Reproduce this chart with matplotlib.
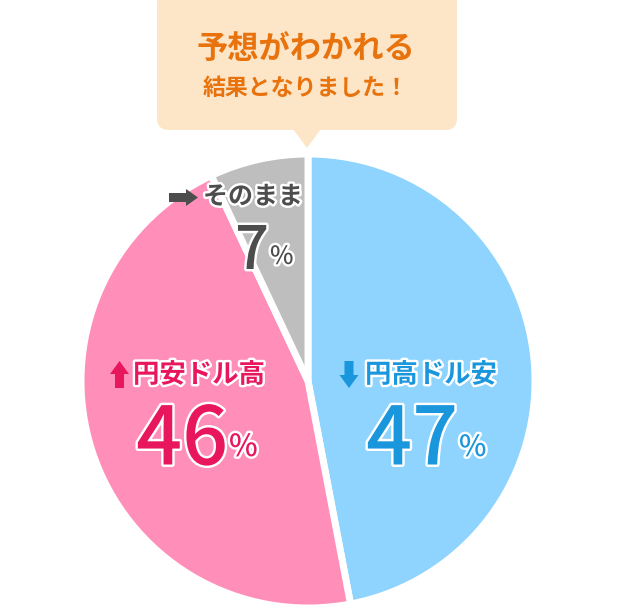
import matplotlib.pyplot as plt
import matplotlib.patches as mpatches
import matplotlib.patheffects as pe

plt.rcParams['font.family'] = ['Noto Sans CJK JP', 'DejaVu Sans']

# data
labels = ["円高ドル安", "円安ドル高", "そのまま"]
shares = [47, 46, 7]
slice_colors = ["#8ed4fe", "#ff8fb8", "#bebebe"]
text_colors = ["#1a96dc", "#e8175d", "#4d4d4d"]
title_lines = ["予想がわかれる", "結果となりました！"]

W, H = 618, 610
fig = plt.figure(figsize=(W / 100, H / 100), dpi=100)
ax = fig.add_axes([0, 0, 1, 1])

# pie, clockwise from 12 o'clock
cx, cy, r = 308, H - 381, 227
ax.pie(shares, colors=slice_colors, startangle=90, counterclock=False,
       center=(cx, cy), radius=r, frame=True,
       wedgeprops=dict(edgecolor="white", linewidth=5))
ax.set_xlim(0, W)
ax.set_ylim(0, H)
ax.set_aspect("equal")
ax.axis("off")

# speech bubble
bubble = mpatches.FancyBboxPatch((157, H - 130), 300, 140,
                                 boxstyle="round,pad=0,rounding_size=12",
                                 fc="#fde5c8", ec="none")
ax.add_patch(bubble)
ax.add_patch(mpatches.Polygon([(293, H - 129), (321, H - 129), (307, H - 148)],
                              closed=True, fc="#fde5c8", ec="none"))
ax.text(306, H - 49, title_lines[0], ha="center", va="center",
        fontsize=22.5, fontweight="bold", color="#e8720c")
ax.text(306, H - 88, title_lines[1], ha="center", va="center",
        fontsize=16.5, fontweight="bold", color="#e8720c")

outline = [pe.withStroke(linewidth=3.5, foreground="white")]

# label positions (x of text start, y of label, x split of number/%, y of number)
label_pos = [(365, 375, 458, 432), (133, 375, 228, 432), (203, 197, 269, 245)]
num_sizes = [58, 58, 43]
pct_sizes = [21, 22, 18]
label_sizes = [19, 19, 18]

for i in range(3):
    lx, ly, nx, ny = label_pos[i]
    ax.text(lx, H - ly, labels[i], ha="left", va="center",
            fontsize=label_sizes[i], fontweight="bold", color=text_colors[i],
            path_effects=outline)
    ax.text(nx, H - ny, str(shares[i]), ha="right", va="center_baseline",
            fontsize=num_sizes[i], fontweight="medium", color=text_colors[i],
            path_effects=outline)
    ax.text(nx + 1, H - ny - 12 * (num_sizes[i] / 58), "%", ha="left",
            va="center_baseline", fontsize=pct_sizes[i], fontweight="medium",
            color=text_colors[i], path_effects=outline)

# arrows
arrow_kw = dict(length_includes_head=True, ec="none")
ax.add_patch(mpatches.FancyArrow(349, H - 361, 0, -27, width=9, head_width=19,
                                 head_length=13, fc=text_colors[0], **arrow_kw))
ax.add_patch(mpatches.FancyArrow(119.5, H - 388, 0, 27, width=9, head_width=19,
                                 head_length=13, fc=text_colors[1], **arrow_kw))
ax.add_patch(mpatches.FancyArrow(169, H - 197.5, 29, 0, width=9, head_width=17,
                                 head_length=12, fc=text_colors[2], **arrow_kw))

fig.savefig("out.png", dpi=100)
